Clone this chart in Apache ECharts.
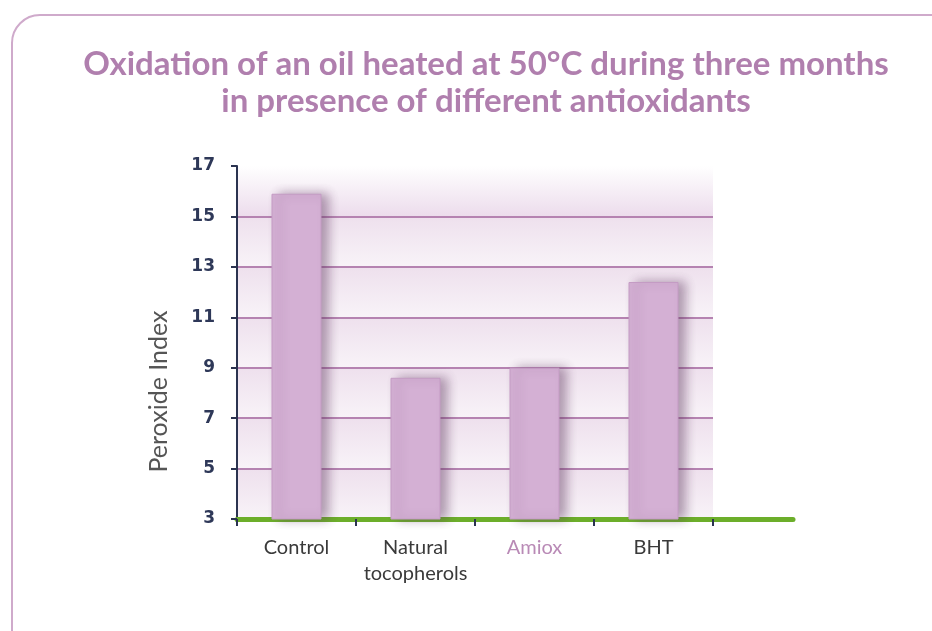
<!DOCTYPE html>
<html>
<head>
<meta charset="utf-8">
<script src="https://cdn.jsdelivr.net/npm/echarts@6/dist/echarts.min.js"></script>
<style>
  html, body { margin: 0; padding: 0; background: #fff; }
  #chart { width: 932px; height: 631px; }
</style>
</head>
<body>
<div id="chart"></div>
<script>
  // 数据
  var categories = ['Control', 'Natural\ntocopherols', 'Amiox', 'BHT'];
  var peroxideIndex = [15.9, 8.6, 9.0, 12.4];
  var yTicks = [3, 5, 7, 9, 11, 13, 15, 17];

  var chart = echarts.init(document.getElementById('chart'));

  // 每个区间的渐变，最上面一格渐变到白色
  function band(top, bottom) {
    return new echarts.graphic.LinearGradient(0, 0, 0, 1, [
      { offset: 0, color: top },
      { offset: 1, color: bottom }
    ]);
  }
  var bandColors = [];
  for (var i = 0; i < yTicks.length - 2; i++) {
    bandColors.push(band('#eee0ed', '#f8f3f8'));
  }
  bandColors.push(band('#ffffff', '#ecdcec'));

  var option = {
    backgroundColor: '#fff',
    title: {
      text: 'Oxidation of an oil heated at 50°C during three months\nin presence of different antioxidants',
      left: 481,
      top: 41,
      textAlign: 'center',
      textStyle: {
        color: '#b07fae',
        fontFamily: 'Lato',
        fontWeight: 'bold',
        fontSize: 33,
        lineHeight: 37
      }
    },
    graphic: [
      {
        type: 'rect',
        shape: { x: 12, y: 15, width: 950, height: 650, r: 28 },
        style: { fill: 'none', stroke: '#cfaacb', lineWidth: 2 },
        z: -1
      }
    ],
    grid: [
      { left: 237, right: 219, top: 166, bottom: 112 },
      // 绿色底线比网格更长
      { left: 237, right: 139, top: 166, bottom: 112 }
    ],
    xAxis: [
      {
        type: 'category',
        gridIndex: 0,
        data: categories,
        boundaryGap: true,
        axisLine: { show: false },
        axisTick: {
          show: true,
          interval: 0,
          length: 7,
          lineStyle: { color: '#2b3350', width: 2 }
        },
        axisLabel: {
          interval: 0,
          hideOverlap: false,
          margin: 16,
          fontFamily: 'Lato',
          fontSize: 20,
          lineHeight: 26,
          color: function (value) {
            return value === 'Amiox' ? '#b98ab6' : '#3a3a3a';
          }
        }
      },
      {
        type: 'value',
        gridIndex: 1,
        min: 0,
        max: 1,
        axisLine: { show: true, lineStyle: { color: '#6cae2a', width: 5 } },
        axisTick: { show: false },
        axisLabel: { show: false },
        splitLine: { show: false }
      }
    ],
    yAxis: [
      {
        type: 'value',
        gridIndex: 0,
        min: yTicks[0],
        max: yTicks[yTicks.length - 1],
        interval: 2,
        name: 'Peroxide Index',
        nameLocation: 'middle',
        nameGap: 66,
        nameRotate: 90,
        nameTextStyle: {
          color: '#555',
          fontFamily: 'Lato',
          fontSize: 25,
          padding: [0, 98, 0, 0]
        },
        axisLine: { show: true, lineStyle: { color: '#2b3350', width: 2 } },
        axisTick: {
          show: true,
          inside: false,
          length: 6,
          lineStyle: { color: '#2b3350', width: 2 }
        },
        axisLabel: {
          margin: 22,
          color: '#2e3858',
          fontFamily: 'DejaVu Sans',
          fontWeight: 'bold',
          fontSize: 17
        },
        splitLine: {
          show: true,
          showMaxLine: false,
          lineStyle: { color: '#b583b1', width: 2 }
        },
        splitArea: {
          show: true,
          areaStyle: { color: bandColors }
        }
      },
      {
        type: 'value',
        gridIndex: 1,
        show: false
      }
    ],
    series: [
      {
        name: 'Peroxide Index',
        type: 'bar',
        xAxisIndex: 0,
        yAxisIndex: 0,
        barWidth: 50,
        data: peroxideIndex,
        itemStyle: {
          color: '#d4b0d4',
          borderColor: '#c49bc4',
          borderWidth: 1,
          shadowColor: 'rgba(90, 50, 90, 0.45)',
          shadowBlur: 10,
          shadowOffsetX: 7,
          shadowOffsetY: 0
        },
        z: 3
      }
    ]
  };

  chart.setOption(option, true);
</script>
</body>
</html>
